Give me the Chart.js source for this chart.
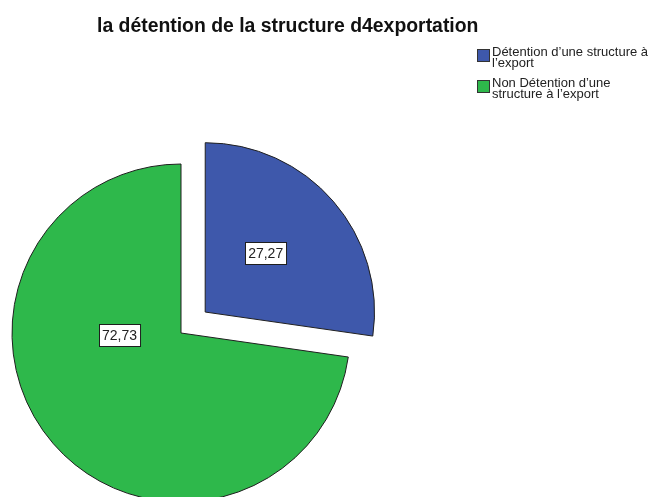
<!DOCTYPE html>
<html lang="fr">
<head>
<meta charset="utf-8">
<title>la détention de la structure d4exportation</title>
<script src="https://cdn.jsdelivr.net/npm/chart.js@4.4.1/dist/chart.umd.min.js"></script>
<style>
  html, body { margin: 0; padding: 0; background: #fff; }
  #wrap {
    position: relative; width: 652px; height: 497px; overflow: hidden;
    font-family: "Liberation Sans", Arial, sans-serif;
  }
  #chart { position: absolute; left: 0; top: 0; }
  #title {
    position: absolute; left: 97px; top: 15px;
    font-size: 19.4px; line-height: 20px; font-weight: bold;
    color: #111; white-space: nowrap;
  }
  .swatch {
    position: absolute; width: 13px; height: 13px;
    box-sizing: border-box; border: 1px solid #333;
  }
  .ltext {
    position: absolute; left: 492px; width: 159px;
    font-size: 13px; line-height: 11px; color: #222;
  }
</style>
</head>
<body>
<div id="wrap">
  <canvas id="chart" width="652" height="497"></canvas>
  <div id="title">la détention de la structure d4exportation</div>
  <div id="legend"></div>
</div>
<script>
// Categories and percentages of the pie
const categories = [
  "Détention d’une structure à l’export",
  "Non Détention d’une structure à l’export"
];
const values = [27.27, 72.73];
const colors = ["#3e58ab", "#2eb84b"];

// Pull-out of each slice (Chart.js moves an arc by offset / 4 pixels)
const sliceOffsets = [128, 0];

// Where each value box sits: angle in canvas radians and fraction of the radius
const labelAngle = [-0.773, Math.PI - 0.04];
const labelRadius = [0.5, 0.364];

// Legend rows (swatch top, text top)
const legendRows = [
  { swatchTop: 49, textTop: 45.5 },
  { swatchTop: 79.5, textTop: 76.5 }
];

const legend = document.getElementById('legend');
categories.forEach((name, i) => {
  const sw = document.createElement('div');
  sw.className = 'swatch';
  sw.style.left = '477px';
  sw.style.top = legendRows[i].swatchTop + 'px';
  sw.style.background = colors[i];
  legend.appendChild(sw);
  const tx = document.createElement('div');
  tx.className = 'ltext';
  tx.style.top = legendRows[i].textTop + 'px';
  tx.textContent = name;
  legend.appendChild(tx);
});

const valueLabels = {
  id: 'valueLabels',
  afterDatasetsDraw(chart) {
    const ctx = chart.ctx;
    const meta = chart.getDatasetMeta(0);
    ctx.save();
    ctx.font = '14px "Liberation Sans", Arial, sans-serif';
    ctx.textAlign = 'center';
    ctx.textBaseline = 'middle';
    meta.data.forEach((arc, i) => {
      const p = arc.getProps(['x', 'y', 'startAngle', 'endAngle', 'outerRadius']);
      const mid = (p.startAngle + p.endAngle) / 2;
      const shift = (arc.options.offset || 0) / 4;
      // apex of the (possibly pulled-out) slice
      const cx = p.x + Math.cos(mid) * shift;
      const cy = p.y + Math.sin(mid) * shift;
      const a = labelAngle[i];
      const r = labelRadius[i] * p.outerRadius;
      const lx = cx + Math.cos(a) * r;
      const ly = cy + Math.sin(a) * r;
      const text = values[i].toFixed(2).replace('.', ',');
      const w = ctx.measureText(text).width + 6;
      const h = 22;
      const bx = Math.round(lx - w / 2) + 0.5;
      const by = Math.round(ly - h / 2) + 0.5;
      ctx.fillStyle = '#ffffff';
      ctx.fillRect(bx, by, w, h);
      ctx.strokeStyle = '#1e1e1e';
      ctx.lineWidth = 1;
      ctx.strokeRect(bx, by, w, h);
      ctx.fillStyle = '#222222';
      ctx.fillText(text, lx, ly + 1);
    });
    ctx.restore();
  }
};

new Chart(document.getElementById('chart'), {
  type: 'pie',
  data: {
    labels: categories,
    datasets: [{
      data: values,
      backgroundColor: colors,
      borderColor: '#1f1f1f',
      borderWidth: 1,
      offset: sliceOffsets,
      clip: false
    }]
  },
  options: {
    responsive: false,
    animation: false,
    radius: 169,
    layout: { padding: { left: 0, right: 290, top: 169, bottom: 0 } },
    plugins: {
      legend: { display: false },
      title: { display: false },
      tooltip: { enabled: false }
    }
  },
  plugins: [valueLabels]
});
</script>
</body>
</html>
